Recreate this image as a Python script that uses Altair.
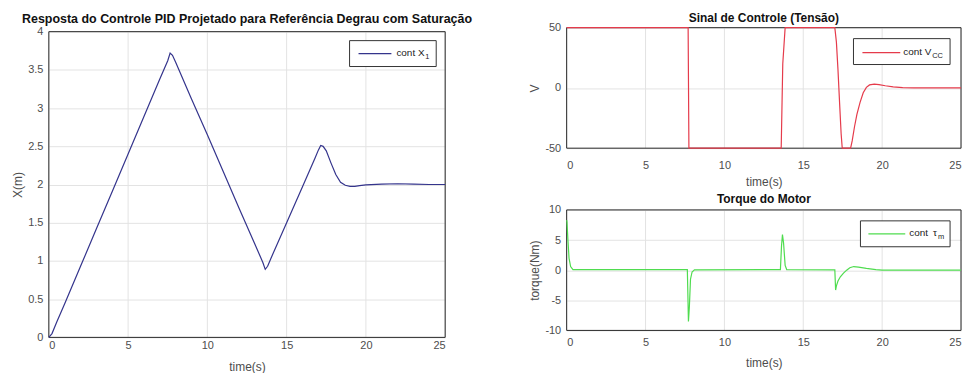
import altair as alt
import pandas as pd

# ---------------- data ----------------
t_x = [0, 0.2, 0.5, 1, 2, 3, 4, 5, 6, 7, 7.5, 7.65, 7.8, 8, 9, 10, 11, 12, 13, 13.5,
       13.65, 13.8, 14, 15, 16, 16.8, 17.0, 17.15, 17.3, 17.5, 17.8, 18.1, 18.4, 18.7,
       19.0, 19.3, 19.6, 20, 21, 22, 23, 24, 25]
x1 = [0, 0.05, 0.2, 0.44, 0.93, 1.42, 1.91, 2.40, 2.89, 3.38, 3.62, 3.72, 3.69, 3.60,
      3.12, 2.65, 2.17, 1.69, 1.22, 0.98, 0.89, 0.93, 1.03, 1.50, 1.97, 2.35, 2.45, 2.51,
      2.50, 2.44, 2.28, 2.13, 2.03, 1.99, 1.975, 1.975, 1.985, 1.995, 2.005, 2.01, 2.005,
      2.0, 2.0]

t_v = [0, 7.7, 7.75, 13.6, 13.7, 13.85, 17.0, 17.1, 17.2, 17.3, 17.4, 17.47, 18.0, 18.1,
       18.25, 18.4, 18.6, 18.8, 19.0, 19.2, 19.5, 19.8, 20.2, 20.7, 21.3, 22, 23, 25]
vcc = [50, 50, -50, -50, 20, 50, 50, 38, 15, -12, -38, -50, -50, -44, -32, -22, -12, -4,
       0.5, 2.5, 3.2, 2.8, 1.8, 0.8, 0.2, 0, 0, 0]

t_tau = [0, 0.02, 0.08, 0.15, 0.25, 0.4, 7.65, 7.72, 7.78, 7.85, 7.95, 8.1, 13.55, 13.62,
         13.68, 13.75, 13.85, 13.95, 17.0, 17.05, 17.1, 17.2, 17.35, 17.55, 17.75, 17.95,
         18.2, 18.5, 19.0, 19.6, 20, 25]
tau = [8.3, 8.0, 5.0, 2.0, 0.6, 0.1, 0.1, -8.5, -6.0, -1.5, -0.3, 0.05, 0.1, 4.0, 5.9,
       4.5, 0.8, 0.1, 0.05, -3.3, -2.6, -1.8, -1.1, -0.5, 0.0, 0.4, 0.6, 0.5, 0.3, 0.1, 0, 0]

x_ticks = [0, 5, 10, 15, 20, 25]

FONT = "Liberation Sans"
GRID = "#e3e3e3"
BOX = "#262626"


def panel(t, y, color, title, ytitle, ydom, yticks, w, h, leg, xlab_pad, xtitle_pad,
          ytitle_pad, title_size, title_offset, drop=0):
    """drop: number of pixels the plot box sits below the panel's top edge."""
    df = pd.DataFrame({"t": t, "y": y})
    H = h + drop
    line = alt.Chart(df).mark_line(color=color, strokeWidth=1.2).encode(
        x=alt.X("t:Q", title="time(s)",
                scale=alt.Scale(domain=[0, 25], nice=False),
                axis=alt.Axis(values=x_ticks, labelPadding=xlab_pad, grid=False,
                              titlePadding=xtitle_pad, labelExpr="datum.value + ''")),
        y=alt.Y("y:Q", title=ytitle,
                scale=alt.Scale(domain=ydom, nice=False, range=[H, drop]),
                axis=alt.Axis(values=yticks, titlePadding=ytitle_pad,
                              labelExpr="datum.value + ''")),
    )
    one = pd.DataFrame({"k": [0]})
    vgrid = alt.Chart(pd.DataFrame({"g": x_ticks})).mark_rule(
        color=GRID, strokeWidth=1).encode(
        x=alt.X("g:Q", scale=alt.Scale(domain=[0, 25], nice=False)),
        y=alt.value(drop), y2=alt.value(H))
    frame = alt.Chart(one).mark_rect(fillOpacity=0, stroke=BOX, strokeWidth=1).encode(
        x=alt.value(0), x2=alt.value(w), y=alt.value(drop), y2=alt.value(H))
    bx0, bx1, by0, by1, lx0, lx1, ly, tx, main, sx, sub = leg
    by0, by1, ly = by0 + drop, by1 + drop, ly + drop
    box = alt.Chart(one).mark_rect(fill="white", stroke="#333333", strokeWidth=1).encode(
        x=alt.value(bx0), x2=alt.value(bx1), y=alt.value(by0), y2=alt.value(by1))
    seg = alt.Chart(one).mark_rule(color=color, strokeWidth=1.2).encode(
        x=alt.value(lx0), x2=alt.value(lx1), y=alt.value(ly))
    txt = alt.Chart(one).mark_text(align="left", baseline="middle", fontSize=10,
                                   font=FONT, color="#222222").encode(
        x=alt.value(tx), y=alt.value(ly - 1), text=alt.value(main))
    stxt = alt.Chart(one).mark_text(align="left", baseline="middle", fontSize=7.5,
                                    font=FONT, color="#222222").encode(
        x=alt.value(sx), y=alt.value(ly + 3), text=alt.value(sub))
    return alt.layer(vgrid, frame, line, box, seg, txt, stxt).properties(
        width=w, height=H,
        view=alt.ViewBackground(strokeOpacity=0),
        title=alt.TitleParams(title, fontSize=title_size, fontWeight="bold", font=FONT,
                              color="#111111", anchor="middle", frame="group",
                              offset=title_offset))


left = panel(t_x, x1, "#34348c",
             "Resposta do Controle PID Projetado para Referência Degrau com Saturação",
             "X(m)", [0, 4], [0, 0.5, 1, 1.5, 2, 2.5, 3, 3.5, 4], 398, 307,
             (302, 389, 9, 35, 311, 344, 22, 349, "cont X", 378, "1"),
             2, 11, 3, 12.5, 0, drop=4)

top = panel(t_v, vcc, "#e53b4b", "Sinal de Controle (Tensão)", "V", [-50, 50],
            [-50, 0, 50], 396, 121,
            (288, 385, 11, 37, 297, 335, 25, 338, "cont V", 367, "CC"),
            11, 6, 3, 12, -3)

bottom = panel(t_tau, tau, "#4fdc4f", "Torque do Motor", "torque(Nm)", [-10, 10],
               [-10, -5, 0, 5, 10], 396, 121,
               (295, 385, 11, 37, 303, 340, 24, 344, "cont\u2002τ", 373, "m"),
               6, 10, 3, 12, -2)

right = alt.vconcat(top, bottom, spacing=6)

chart = alt.concat(left, right, columns=2, align="none", spacing=56).properties(
    padding={"left": 3, "top": 3, "right": 2, "bottom": 0}
).configure_view(
    stroke=BOX, strokeWidth=1
).configure_axis(
    labelFont=FONT, labelFontSize=11, labelColor="#4d4d4d",
    titleFont=FONT, titleFontSize=12, titleColor="#4d4d4d", titleFontWeight="normal",
    gridColor=GRID, gridWidth=1, domain=False, ticks=False, labelPadding=6
)

chart.save("out.html", embed_options={"renderer": "svg", "actions": False})
